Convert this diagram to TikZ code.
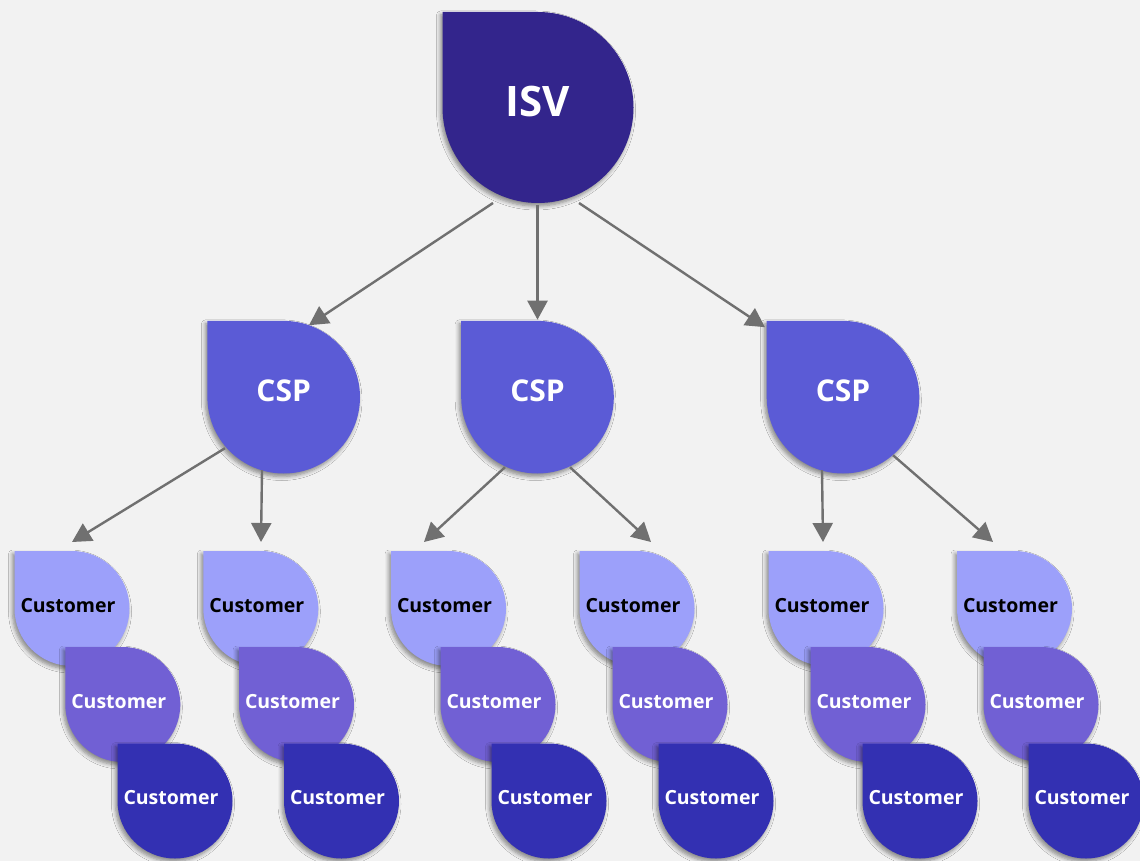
\documentclass[tikz,border=0pt]{standalone}
\usepackage{fontspec}
\setmainfont{Open Sans}
\usetikzlibrary{arrows.meta,calc,shadows.blur}
\definecolor{bg}{HTML}{F2F2F2}
\definecolor{isvc}{HTML}{33258C}
\definecolor{cspc}{HTML}{5B5BD6}
\definecolor{rowa}{HTML}{9CA0FA}
\definecolor{rowb}{HTML}{7160D4}
\definecolor{rowc}{HTML}{3330B2}
\definecolor{arrc}{HTML}{707070}
\tikzset{
  dropfill/.style={blur shadow={shadow xshift=-2pt,shadow yshift=-3pt,shadow blur steps=6,shadow blur radius=4pt,shadow opacity=45}},
  anchornode/.style={circle,inner sep=0pt,draw=none,minimum size=#1},
  arr/.style={draw=arrc,line width=2.4pt,-{Triangle[length=19pt,width=20pt]}},
  isvtext/.style={text=white,font=\fontsize{42}{46}\selectfont\bfseries,anchor=base,inner sep=0pt},
  csptext/.style={text=white,font=\fontsize{30}{34}\selectfont\bfseries,anchor=base,inner sep=0pt},
  custtext/.style={font=\fontsize{19.5}{22}\selectfont\bfseries,anchor=base,inner sep=0pt},
}
% #1 name, #2 cx, #3 cy, #4 radius, #5 colour
\newcommand{\dropshape}[5]{%
  \fill[#5,dropfill] (#2-#4,#3-#4) -- (#2,#3-#4) arc[start angle=-90,end angle=180,radius=#4] -- cycle;
  \node[anchornode=2*#4 pt] (#1) at (#2,#3) {};
}
\newcommand{\custA}[2]{\dropshape{#1}{#2}{608.5}{57.5}{rowa}\node[custtext,text=black] at ($(#1)+(-4,3.5)$) {Customer};}
\newcommand{\custB}[2]{\dropshape{#1}{#2}{704.5}{57.5}{rowb}\node[custtext,text=white] at ($(#1)+(-4,3.5)$) {Customer};}
\newcommand{\custC}[2]{\dropshape{#1}{#2}{801}{57.5}{rowc}\node[custtext,text=white] at ($(#1)+(-4,3.5)$) {Customer};}
\begin{document}
\begin{tikzpicture}[x=1pt,y=-1pt]
\useasboundingbox (0,0) rectangle (1140,861);
\clip (0,0) rectangle (1140,861);
\fill[bg] (0,0) rectangle (1140,861);
% ISV
\dropshape{isv}{538}{107.5}{95.5}{isvc}
\node[isvtext] at ($(isv)+(0,9.5)$) {ISV};
% CSPs
\dropshape{cspa}{283.7}{397.2}{76.3}{cspc}
\dropshape{cspb}{537.5}{397.2}{76.3}{cspc}
\dropshape{cspc}{843}{397.2}{76.3}{cspc}
\node[csptext] at ($(cspa)+(0,4.5)$) {CSP};
\node[csptext] at ($(cspb)+(0,4.5)$) {CSP};
\node[csptext] at ($(cspc)+(0,4.5)$) {CSP};
% customers, first row
\custA{ga1}{72}
\custA{gb1}{260.8}
\custA{gc1}{448.5}
\custA{gd1}{637}
\custA{ge1}{826}
\custA{gf1}{1014.5}
% second row
\custB{ga2}{122.8}
\custB{gb2}{296.5}
\custB{gc2}{498}
\custB{gd2}{670}
\custB{ge2}{868}
\custB{gf2}{1041}
% third row
\custC{ga3}{175}
\custC{gb3}{341.5}
\custC{gc3}{549}
\custC{gd3}{716}
\custC{ge3}{920}
\custC{gf3}{1086}
% arrows ISV -> CSP
\draw[arr] ($(isv)+(-45,95.5)$) -- ($(cspa)+(25.3,-72)$);
\draw[arr] ($(isv)+(-0.5,97.5)$) -- ($(cspb)+(0,-77.5)$);
\draw[arr] ($(isv)+(41,95.5)$) -- ($(cspc)+(-78,-70)$);
% arrows CSP -> customers
\draw[arr] ($(cspa)+(-58.7,51)$) -- ($(ga1)+(0,-66.5)$);
\draw[arr] ($(cspa)+(-21.7,73)$) -- ($(gb1)+(0.2,-66.5)$);
\draw[arr] ($(cspb)+(-32.5,70)$) -- ($(gc1)+(-24.5,-66.5)$);
\draw[arr] ($(cspb)+(32.5,70)$) -- ($(gd1)+(14,-66.5)$);
\draw[arr] ($(cspc)+(-21,73)$) -- ($(ge1)+(-3,-66.5)$);
\draw[arr] ($(cspc)+(50,58)$) -- ($(gf1)+(-21.5,-66.5)$);
\end{tikzpicture}
\end{document}
